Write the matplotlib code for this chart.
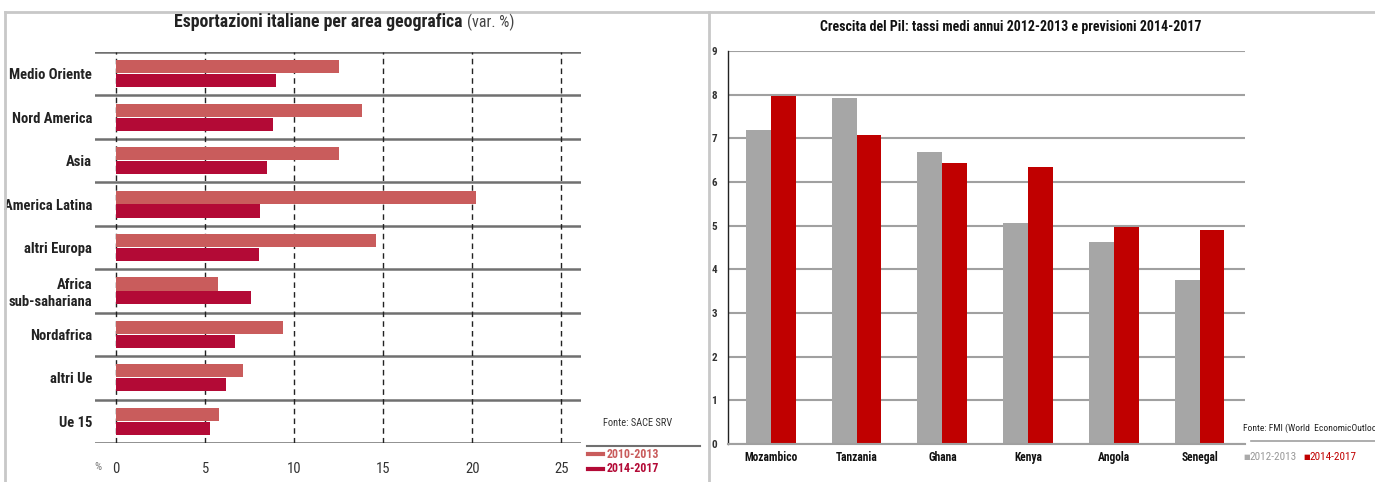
import matplotlib
matplotlib.use("Agg")
import matplotlib.pyplot as plt
from matplotlib import font_manager
from matplotlib.lines import Line2D
import numpy as np

# DATA - left chart
aree = ["Medio Oriente", "Nord America", "Asia", "America Latina", "altri Europa",
        "Africa\nsub-sahariana", "Nordafrica", "altri Ue", "Ue 15"]
var_2010_2013 = [12.5, 13.8, 12.5, 20.2, 14.6, 5.7, 9.4, 7.1, 5.8]
var_2014_2017 = [9.0, 8.8, 8.5, 8.1, 8.0, 7.6, 6.7, 6.2, 5.3]
x_ticks_left = [0, 5, 10, 15, 20, 25]

# DATA - right chart
paesi = ["Mozambico", "Tanzania", "Ghana", "Kenya", "Angola", "Senegal"]
pil_2012_2013 = [7.2, 7.93, 6.68, 5.05, 4.62, 3.75]
pil_2014_2017 = [7.97, 7.07, 6.44, 6.34, 4.98, 4.9]
y_ticks_right = list(range(0, 10))

#FONTS - pick a narrow one if there is one
names = set(f.name for f in font_manager.fontManager.ttflist)
narrow = "DejaVu Sans"
for cand in ["Liberation Sans Narrow", "Roboto Condensed", "Open Sans Condensed", "Roboto"]:
    if cand in names:
        narrow = cand
        break

W, H = 1375, 482
fig = plt.figure(figsize=(W / 100, H / 100), dpi=100)

def fx(px):
    return px / W

def fy(py):
    return 1 - py / H

def box(x0, y0, x1, y1):
    return [fx(x0), fy(y1), fx(x1) - fx(x0), fy(y0) - fy(y1)]

#BORDERS
fig.add_artist(Line2D([fx(5), fx(1375)], [fy(12), fy(12)], color="#c8c8c8", lw=2))
fig.add_artist(Line2D([fx(5), fx(5)], [fy(12), fy(482)], color="#c8c8c8", lw=2))
fig.add_artist(Line2D([fx(709), fx(709)], [fy(12), fy(482)], color="#c8c8c8", lw=2))

#LEFT CHART
c_light = "#c95c5c"
c_dark = "#b30a36"
ax = fig.add_axes(box(95, 52, 581, 443))
y = np.arange(len(aree))
ax.barh(y - 0.16, var_2010_2013, height=0.3, color=c_light)
ax.barh(y + 0.16, var_2014_2017, height=0.3, color=c_dark)
ax.set_ylim(len(aree) - 0.5, -0.5)
ax.set_xlim(-1.18, 26.1)
for b in np.arange(-0.5, len(aree), 1.0):
    ax.axhline(b, color="#707070", lw=1.8, zorder=0)
for t in x_ticks_left:
    ax.axvline(t, color="#222222", lw=1, ls=(0, (4, 3)), zorder=0)
for s in ax.spines.values():
    s.set_visible(False)
ax.set_xticks(x_ticks_left)
ax.set_xticklabels([str(t) for t in x_ticks_left], fontsize=10.5, color="#333333", family=narrow)
ax.tick_params(axis="x", length=0, pad=14)
ax.set_yticks(y)
ax.set_yticklabels(aree, fontsize=10.5, fontweight="bold", color="#222222", family=narrow,
                   linespacing=1.2)
ax.tick_params(axis="y", length=0, pad=2)

fig.text(fx(463), fy(22), "Esportazioni italiane per area geografica", ha="right", va="center",
         fontsize=12.8, fontweight="bold", family=narrow, color="#222222")
fig.text(fx(467), fy(22), "(var. %)", ha="left", va="center",
         fontsize=11.5, family=narrow, color="#444444")
fig.text(fx(98), fy(467), "%", ha="center", va="center", fontsize=8, color="#777777", family=narrow)
fig.text(fx(638), fy(423), "Fonte: SACE SRV", ha="center", va="center", fontsize=7.5,
         color="#333333", family=narrow)
fig.add_artist(Line2D([fx(587), fx(700)], [fy(446), fy(446)], color="#707070", lw=1.5))
fig.add_artist(Line2D([fx(588), fx(603)], [fy(454), fy(454)], color=c_light, lw=3))
fig.add_artist(Line2D([fx(588), fx(603)], [fy(469), fy(469)], color=c_dark, lw=3))
fig.text(fx(607), fy(454), "2010-2013", ha="left", va="center", fontsize=8.6, fontweight="bold",
         color=c_light, family=narrow)
fig.text(fx(607), fy(469), "2014-2017", ha="left", va="center", fontsize=8.6, fontweight="bold",
         color=c_dark, family=narrow)

#RIGHT CHART
c_grey = "#a6a6a6"
c_red = "#c00000"
ax2 = fig.add_axes(box(728, 51, 1245, 444))
x = np.arange(len(paesi))
ax2.bar(x - 0.145, pil_2012_2013, width=0.29, color=c_grey)
ax2.bar(x + 0.145, pil_2014_2017, width=0.29, color=c_red)
ax2.set_xlim(-0.5, len(paesi) - 0.47)
ax2.set_ylim(0, 9)
ax2.set_yticks(y_ticks_right)
ax2.yaxis.grid(True, color="#a0a0a0", lw=1.5)
ax2.set_axisbelow(True)
for k in ["top", "right"]:
    ax2.spines[k].set_visible(False)
ax2.spines["left"].set_color("#222222")
ax2.spines["left"].set_linewidth(1)
ax2.spines["bottom"].set_color("#a0a0a0")
ax2.spines["bottom"].set_linewidth(1.5)
ax2.set_xticks(x)
ax2.set_xticklabels(paesi, fontsize=8.3, fontweight="bold", family=narrow, color="#111111")
ax2.tick_params(axis="x", length=0, pad=5)
for lab in ax2.get_yticklabels():
    lab.set_fontweight("bold")
    lab.set_family(narrow)
ax2.tick_params(axis="y", length=0, pad=8, labelsize=8, labelcolor="#333333")

fig.text(fx(1011), fy(27), "Crescita del Pil: tassi medi annui 2012-2013 e previsioni 2014-2017",
         ha="center", va="center", fontsize=10, fontweight="bold", family=narrow, color="#111111")
fig.text(fx(1243), fy(428), "Fonte: FMI (World  EconomicOutlook)", ha="left", va="center",
         fontsize=6.8, family=narrow, color="#222222")
fig.add_artist(Line2D([fx(1251), fx(1375)], [fy(441), fy(441)], color="#a0a0a0", lw=1.2))
fig.text(fx(1243), fy(457), "\u25a0", ha="left", va="center", fontsize=5,
         family="DejaVu Sans", color="#aaaaaa")
fig.text(fx(1249), fy(457), "2012-2013", ha="left", va="center", fontsize=8,
         family=narrow, color="#999999")
fig.text(fx(1303), fy(457), "\u25a0", ha="left", va="center", fontsize=5,
         family="DejaVu Sans", color=c_red)
fig.text(fx(1309), fy(457), "2014-2017", ha="left", va="center", fontsize=8,
         family=narrow, color=c_red)

plt.savefig("out.png", dpi=100)
